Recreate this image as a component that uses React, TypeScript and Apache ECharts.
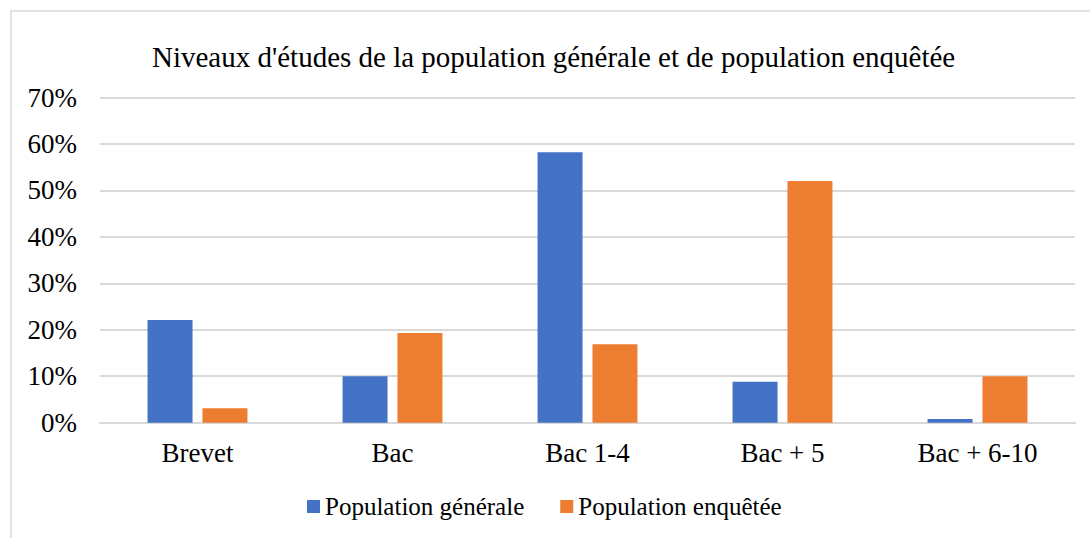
import React, { useEffect, useRef } from "react";
import * as echarts from "echarts";

const categories = ["Brevet", "Bac", "Bac 1-4", "Bac + 5", "Bac + 6-10"];
const populationGenerale = [22.1, 10.0, 58.2, 8.8, 0.8];
const populationEnquetee = [3.1, 19.3, 16.9, 52.0, 10.0];
const seriesNames = ["Population générale", "Population enquêtée"];
const titleText = "Niveaux d'études de la population générale et de population enquêtée";

const FONT = "'Liberation Serif', 'Times New Roman', serif";

export default function App() {
  const ref = useRef<HTMLDivElement>(null);
  useEffect(() => {
    if (!ref.current) return;
    const chart = echarts.init(ref.current, null, { renderer: "svg" });
    chart.setOption({
      animation: false,
      backgroundColor: "#ffffff",
      title: {
        text: titleText,
        left: 147,
        top: 37,
        textStyle: { fontFamily: FONT, fontSize: 29, fontWeight: "normal", color: "#000" },
      },
      graphic: [
        {
          type: "rect",
          shape: { x: 11, y: 11, width: 1200, height: 700 },
          style: { fill: "none", stroke: "#d9d9d9", lineWidth: 1.5 },
          silent: true,
        },
      ],
      legend: {
        data: seriesNames,
        left: 302,
        top: 489,
        itemWidth: 13,
        itemHeight: 13,
        itemGap: 36,
        icon: "rect",
        textStyle: { fontFamily: FONT, fontSize: 25, color: "#000" },
      },
      grid: { left: 100, right: 15, top: 97.5, bottom: 115.3 },
      xAxis: {
        type: "category",
        data: categories,
        axisLine: { lineStyle: { color: "#d9d9d9", width: 2 } },
        axisTick: { show: false },
        axisLabel: { fontFamily: FONT, fontSize: 27, color: "#000", margin: 17 },
      },
      yAxis: {
        type: "value",
        min: 0,
        max: 70,
        interval: 10,
        axisLine: { show: false },
        axisTick: { show: false },
        splitLine: { lineStyle: { color: "#d9d9d9", width: 2 } },
        axisLabel: { formatter: "{value}%", fontFamily: FONT, fontSize: 27, color: "#000", margin: 23 },
      },
      series: [
        {
          name: seriesNames[0],
          type: "bar",
          data: populationGenerale,
          barWidth: 45,
          barGap: "22%",
          itemStyle: { color: "#4472C4" },
        },
        {
          name: seriesNames[1],
          type: "bar",
          data: populationEnquetee,
          barWidth: 45,
          barGap: "22%",
          itemStyle: { color: "#ED7D31" },
        },
      ],
    });
    return () => chart.dispose();
  }, []);
  return (
    <div
      ref={ref}
      style={{ position: "absolute", left: 0, top: 0, width: 1090, height: 538 }}
    />
  );
}
